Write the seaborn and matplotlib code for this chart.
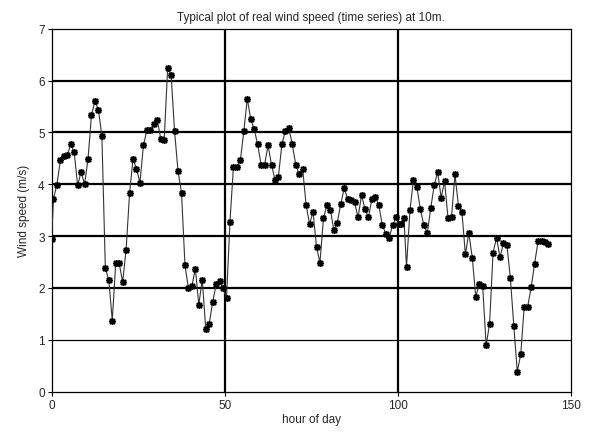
import numpy as np
import pandas as pd
import matplotlib
matplotlib.use("Agg")
import matplotlib.pyplot as plt
import seaborn as sns

# ---- data ----
hours = np.concatenate([[0.0], np.arange(0.5, 100.0, 1.0),
                        [100.25, 101.0, 101.75], np.arange(102.5, 144.0, 1.0)])

wind_speed = [
    2.95,
    3.72, 3.99, 4.46, 4.54, 4.56, 4.77, 4.62, 3.98, 4.24, 4.00,
    4.49, 5.34, 5.60, 5.44, 4.93, 2.38, 2.15, 1.37, 2.48, 2.48,
    2.11, 2.74, 3.83, 4.49, 4.30, 4.03, 4.75, 5.04, 5.04, 5.16,
    5.24, 4.88, 4.86, 6.24, 6.11, 5.02, 4.25, 3.84, 2.44, 1.99,
    2.04, 2.37, 1.68, 2.16, 1.21, 1.31, 1.72, 2.07, 2.13, 2.00,
    1.80, 3.28, 4.33, 4.33, 4.46, 5.02, 5.65, 5.26, 5.06, 4.77,
    4.38, 4.38, 4.75, 4.38, 4.09, 4.15, 4.77, 5.03, 5.08, 4.77,
    4.38, 4.19, 4.30, 3.60, 3.23, 3.47, 2.79, 2.49, 3.34, 3.60,
    3.51, 3.12, 3.26, 3.62, 3.92, 3.72, 3.69, 3.65, 3.36, 3.79,
    3.53, 3.36, 3.72, 3.76, 3.60, 3.21, 3.05, 2.97, 3.21, 3.36,
    3.24, 3.23, 3.34,
    2.41, 3.50, 4.08, 3.94, 3.52, 3.21, 3.06, 3.54, 3.98, 4.24,
    3.74, 4.06, 3.34, 3.37, 4.19, 3.58, 3.47, 2.65, 3.06, 2.58,
    1.83, 2.07, 2.04, 0.89, 1.31, 2.68, 2.97, 2.59, 2.86, 2.83,
    2.19, 1.26, 0.38, 0.72, 1.64, 1.64, 2.01, 2.47, 2.90, 2.90,
    2.88, 2.85,
]

xticks = [0, 50, 100, 150]
yticks = [0, 1, 2, 3, 4, 5, 6, 7]

df = pd.DataFrame({"hour": hours[:len(wind_speed)], "speed": wind_speed})

sns.set_style("white")
plt.rcParams["font.family"] = ["Liberation Sans", "DejaVu Sans"]

fig = plt.figure(figsize=(6.01, 4.35), dpi=100)
ax = fig.add_axes([0.086, 0.0975, 0.864, 0.834])

sns.lineplot(data=df, x="hour", y="speed", ax=ax, color="#333333",
             linewidth=0.8, marker=(8, 2, 0), markersize=5,
             markerfacecolor="black", markeredgecolor="black",
             markeredgewidth=1.1, sort=False, zorder=3)

ax.set_xlim(0, 150)
ax.set_ylim(0, 7)
ax.set_xticks(xticks)
ax.set_yticks(yticks)
ax.tick_params(axis="both", labelsize=8.5, length=3, width=0.8,
               direction="out", color="black", pad=2,
               bottom=True, left=True)

ax.grid(True, color="black", linewidth=1.6, zorder=1)
for i, gl in enumerate(ax.xaxis.get_gridlines()):
    if xticks[i] in (0, 150):
        gl.set_visible(False)
for i, gl in enumerate(ax.yaxis.get_gridlines()):
    if yticks[i] in (0, 7):
        gl.set_visible(False)
    elif yticks[i] == 1:
        gl.set_linewidth(0.9)

for s in ax.spines.values():
    s.set_color("black")
    s.set_linewidth(0.9)

ax.set_title("Typical plot of real wind speed (time series) at 10m.",
             fontsize=8.5, pad=6)
ax.set_xlabel("hour of day", fontsize=8.5, labelpad=2)
ax.set_ylabel("Wind speed (m/s)", fontsize=8.5, labelpad=6)

fig.savefig("out.png", dpi=100)
